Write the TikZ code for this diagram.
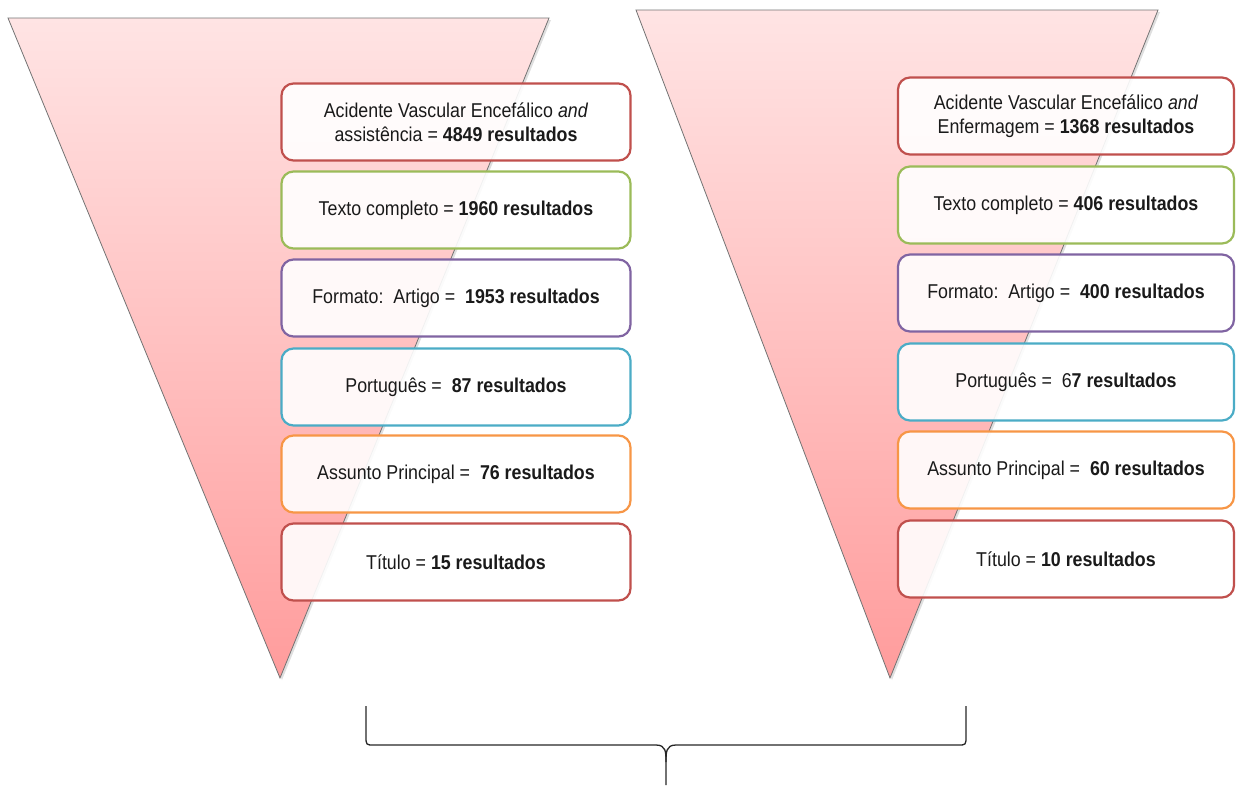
\documentclass[tikz,border=0pt]{standalone}
\usepackage{fontspec}
\setmainfont{Liberation Sans}[FakeStretch=0.89]
\usetikzlibrary{shadows}
\definecolor{cred}{HTML}{C0504D}
\definecolor{cgreen}{HTML}{9BBB59}
\definecolor{cpurple}{HTML}{8064A2}
\definecolor{cblue}{HTML}{4BACC6}
\definecolor{corange}{HTML}{F79646}
\definecolor{ptop}{HTML}{FFE4E4}
\definecolor{pbot}{HTML}{FF9C9C}
\definecolor{txt}{HTML}{1A1A1A}
\begin{document}
\begin{tikzpicture}[x=1pt,y=-1pt,
  funnel/.style={draw=black!55, line width=0.8pt, top color=ptop, bottom color=pbot,
    drop shadow={opacity=0.25, shadow xshift=2pt, shadow yshift=-2pt}},
  fbox/.style={draw=#1, line width=2.2pt, rounded corners=12pt, fill=white, fill opacity=0.9,
    text opacity=1, text=txt, align=center, inner sep=0pt,
    font=\fontsize{20}{24}\selectfont},
  lbox/.style={fbox=#1, minimum width=349pt, minimum height=77pt},
  rbox/.style={fbox=#1, minimum width=336pt, minimum height=77pt},
  brace/.style={draw=black!85, line width=1.3pt}]
\useasboundingbox (0,0) rectangle (1237,785);
% funnels
\path[funnel] (8,18) -- (549,18) -- (280,678) -- cycle;
\path[funnel] (636,10) -- (1158,10) -- (890,678) -- cycle;
% left boxes
\node[lbox=cred]    (l1) at (456,122) {Acidente Vascular Encefálico \textit{and}\\assistência = \textbf{4849 resultados}};
\node[lbox=cgreen]  (l2) at (456,210) {Texto completo = \textbf{1960 resultados}};
\node[lbox=cpurple] (l3) at (456,298) {Formato:\ \ Artigo =\ \ \textbf{1953 resultados}};
\node[lbox=cblue]   (l4) at (456,387) {Português =\ \ \textbf{87 resultados}};
\node[lbox=corange] (l5) at (456,474) {Assunto Principal =\ \ \textbf{76 resultados}};
\node[lbox=cred]    (l6) at (456,562) {Título = \textbf{15 resultados}};
% right boxes
\node[rbox=cred]    (r1) at (1066,116) {Acidente Vascular Encefálico \textit{and}\\Enfermagem = \textbf{1368 resultados}};
\node[rbox=cgreen]  (r2) at (1066,205) {Texto completo = \textbf{406 resultados}};
\node[rbox=cpurple] (r3) at (1066,293) {Formato:\ \ Artigo =\ \ \textbf{400 resultados}};
\node[rbox=cblue]   (r4) at (1066,382) {Português =\ \ 6\textbf{7 resultados}};
\node[rbox=corange] (r5) at (1066,470) {Assunto Principal =\ \ \textbf{60 resultados}};
\node[rbox=cred]    (r6) at (1066,559) {Título = \textbf{10 resultados}};
% brace
\coordinate (bl) at (366,706);
\coordinate (br) at (966,706);
\coordinate (bt) at (666,785);
\draw[brace] (bl) -- (366,736) .. controls (366,745) .. (374,745) -- (656,745)
  .. controls (666,745) and (666,752) .. (666,762) -- (bt);
\draw[brace] (br) -- (966,736) .. controls (966,745) .. (958,745) -- (676,745)
  .. controls (666,745) and (666,752) .. (666,762);
\end{tikzpicture}
\end{document}
